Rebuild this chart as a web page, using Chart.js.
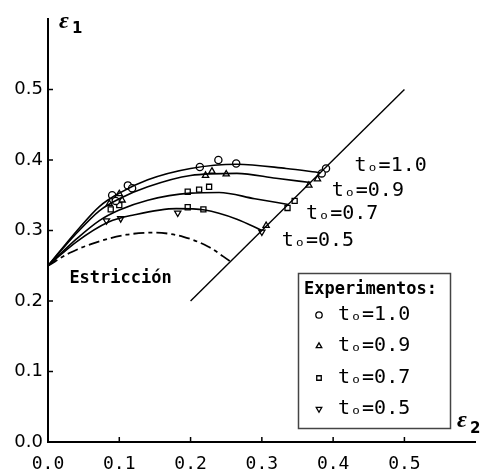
<!DOCTYPE html>
<html><head><meta charset="utf-8">
<script src="https://cdn.jsdelivr.net/npm/chart.js@4.4.1/dist/chart.umd.min.js"></script>
<style>html,body{margin:0;padding:0;background:#fff;overflow:hidden}#wrap{width:481px;height:475px;position:relative}</style>
</head><body><div id="wrap"><canvas id="c" width="481" height="475"></canvas></div>
<script>
// ---- data (ε2, ε1) ----
const X_TICKS = [0, 0.1, 0.2, 0.3, 0.4, 0.5];
const Y_TICKS = [0, 0.1, 0.2, 0.3, 0.4, 0.5];
const SERIES_NAMES = ['tₒ=1.0', 'tₒ=0.9', 'tₒ=0.7', 'tₒ=0.5'];
const curve10 = [[0,0.25],[0.04,0.299],[0.072,0.334],[0.1,0.353],[0.14,0.372],[0.2,0.388],[0.265,0.394],[0.334,0.388],[0.382,0.382]];
const curve09 = [[0,0.25],[0.04,0.296],[0.072,0.328],[0.1,0.345],[0.14,0.362],[0.2,0.378],[0.265,0.381],[0.32,0.374],[0.368,0.368]];
const curve07 = [[0,0.25],[0.04,0.288],[0.072,0.314],[0.1,0.329],[0.14,0.343],[0.2,0.353],[0.24,0.354],[0.29,0.345],[0.337,0.337]];
const curve05 = [[0,0.25],[0.04,0.284],[0.085,0.312],[0.12,0.322],[0.18,0.331],[0.22,0.329],[0.265,0.316],[0.3,0.3]];
const neckCurve = [[0,0.25],[0.03,0.268],[0.07,0.284],[0.11,0.294],[0.15,0.297],[0.19,0.291],[0.225,0.277],[0.256,0.256]];
const limitLine = [[0.2,0.2],[0.5,0.5]];
const exp10 = [[0.09,0.35],[0.112,0.364],[0.118,0.360],[0.095,0.342],[0.213,0.390],[0.239,0.400],[0.264,0.395],[0.390,0.388],[0.384,0.381]];
const exp09 = [[0.100,0.352],[0.104,0.343],[0.086,0.338],[0.221,0.378],[0.230,0.384],[0.250,0.380],[0.378,0.373],[0.366,0.364],[0.306,0.307]];
const exp07 = [[0.088,0.330],[0.100,0.336],[0.196,0.355],[0.212,0.358],[0.226,0.362],[0.196,0.333],[0.218,0.330],[0.346,0.342],[0.336,0.332]];
const exp05 = [[0.082,0.314],[0.102,0.317],[0.182,0.325],[0.300,0.298]];
const CURVE_LABEL_POS = [[0.43,0.392],[0.398,0.357],[0.362,0.323],[0.328,0.286]];
const NECK_LABEL = 'Estricción';
const NECK_LABEL_POS = [0.03,0.232];

const pts = a => a.map(p => ({x:p[0], y:p[1]}));
const lineDs = (d, extra) => Object.assign({type:'line', data:pts(d), showLine:true, borderColor:'#000', borderWidth:1.6, pointRadius:0, fill:false, cubicInterpolationMode:'monotone'}, extra||{});
const markDs = (d, style, rot) => ({type:'scatter', data:pts(d), showLine:false, pointStyle:style, rotation:rot||0, pointRadius:3.6, pointBackgroundColor:'#fff', pointBorderColor:'#000', pointBorderWidth:1.3});

const MARKERS = [['circle',0],['triangle',0],['rect',0],['triangle',180]];

const overlay = {
  id:'overlay',
  afterDraw(chart){
    const {ctx, scales:{x, y}} = chart;
    ctx.save();
    // inward tick marks
    ctx.strokeStyle = '#000'; ctx.lineWidth = 1.5;
    Y_TICKS.forEach(v => { if(v===0) return; const py = y.getPixelForValue(v); ctx.beginPath(); ctx.moveTo(x.left, py); ctx.lineTo(x.left+5, py); ctx.stroke(); });
    X_TICKS.forEach(v => { if(v===0) return; const px = x.getPixelForValue(v); ctx.beginPath(); ctx.moveTo(px, y.bottom); ctx.lineTo(px, y.bottom-5); ctx.stroke(); });
    // curve labels
    ctx.fillStyle = '#000'; ctx.textBaseline = 'middle'; ctx.textAlign = 'left';
    ctx.font = '20px "DejaVu Sans Mono"';
    SERIES_NAMES.forEach((t,i) => ctx.fillText(t, x.getPixelForValue(CURVE_LABEL_POS[i][0]), y.getPixelForValue(CURVE_LABEL_POS[i][1])));
    ctx.font = 'bold 17px "DejaVu Sans Mono"';
    ctx.fillText(NECK_LABEL, x.getPixelForValue(NECK_LABEL_POS[0]), y.getPixelForValue(NECK_LABEL_POS[1]));
    // axis titles
    ctx.textBaseline = 'alphabetic';
    ctx.font = 'bold italic 24px "Liberation Serif"';
    ctx.fillText('ε', 59, 28);
    ctx.font = 'bold 15px "DejaVu Sans"';
    ctx.fillText('1', 72, 33);
    ctx.font = 'bold italic 24px "Liberation Serif"';
    ctx.fillText('ε', 457, 427);
    ctx.font = 'bold 15px "DejaVu Sans"';
    ctx.fillText('2', 470, 433);
    // legend box
    ctx.fillStyle = '#fff';
    ctx.fillRect(298, 273, 152, 155);
    ctx.strokeStyle = '#444'; ctx.lineWidth = 1.5;
    ctx.strokeRect(298.5, 273.5, 152, 155);
    ctx.fillStyle = '#000'; ctx.textBaseline = 'middle';
    ctx.font = 'bold 17px "DejaVu Sans Mono"';
    ctx.fillText('Experimentos:', 304, 290);
    ctx.font = '20px "DejaVu Sans Mono"';
    const rows = [315, 346, 378, 409];
    SERIES_NAMES.forEach((t,i) => {
      ctx.strokeStyle = '#000'; ctx.fillStyle = '#fff'; ctx.lineWidth = 1.3;
      Chart.helpers.drawPoint(ctx, {pointStyle:MARKERS[i][0], rotation:MARKERS[i][1], radius:3.2, borderWidth:1.3}, 319, rows[i]);
      ctx.fillStyle = '#000';
      ctx.fillText(t, 338, rows[i]);
    });
    ctx.restore();
  }
};

new Chart(document.getElementById('c'), {
  type:'scatter',
  data:{datasets:[
    lineDs(curve10), lineDs(curve09), lineDs(curve07), lineDs(curve05),
    lineDs(neckCurve, {borderDash:[11,4,4,4], borderWidth:1.8}),
    lineDs(limitLine, {cubicInterpolationMode:'default', tension:0, borderWidth:1.4}),
    markDs(exp10,'circle'), markDs(exp09,'triangle'), markDs(exp07,'rect'), markDs(exp05,'triangle',180)
  ]},
  options:{
    responsive:false, animation:false, devicePixelRatio:1,
    layout:{padding:{top:19, right:0, left:0, bottom:0}},
    plugins:{legend:{display:false}, tooltip:{enabled:false}},
    scales:{
      x:{type:'linear', min:0, max:0.6,
        afterBuildTicks:s => { s.ticks = X_TICKS.map(v => ({value:v})); },
        afterFit:s => { s.height = 33; },
        grid:{display:false, drawTicks:false}, border:{display:true, color:'#000', width:2},
        ticks:{color:'#000', padding:12, font:{family:'"DejaVu Sans Mono"', size:18}, callback:v => v.toFixed(1), maxRotation:0}},
      y:{type:'linear', min:0, max:0.6,
        afterBuildTicks:s => { s.ticks = Y_TICKS.map(v => ({value:v})); },
        afterFit:s => { s.width = 48; },
        grid:{display:false, drawTicks:false}, border:{display:true, color:'#000', width:2},
        ticks:{color:'#000', padding:5, font:{family:'"DejaVu Sans"', size:18}, callback:v => v.toFixed(1)}}
    }
  },
  plugins:[overlay]
});
</script></body></html>
